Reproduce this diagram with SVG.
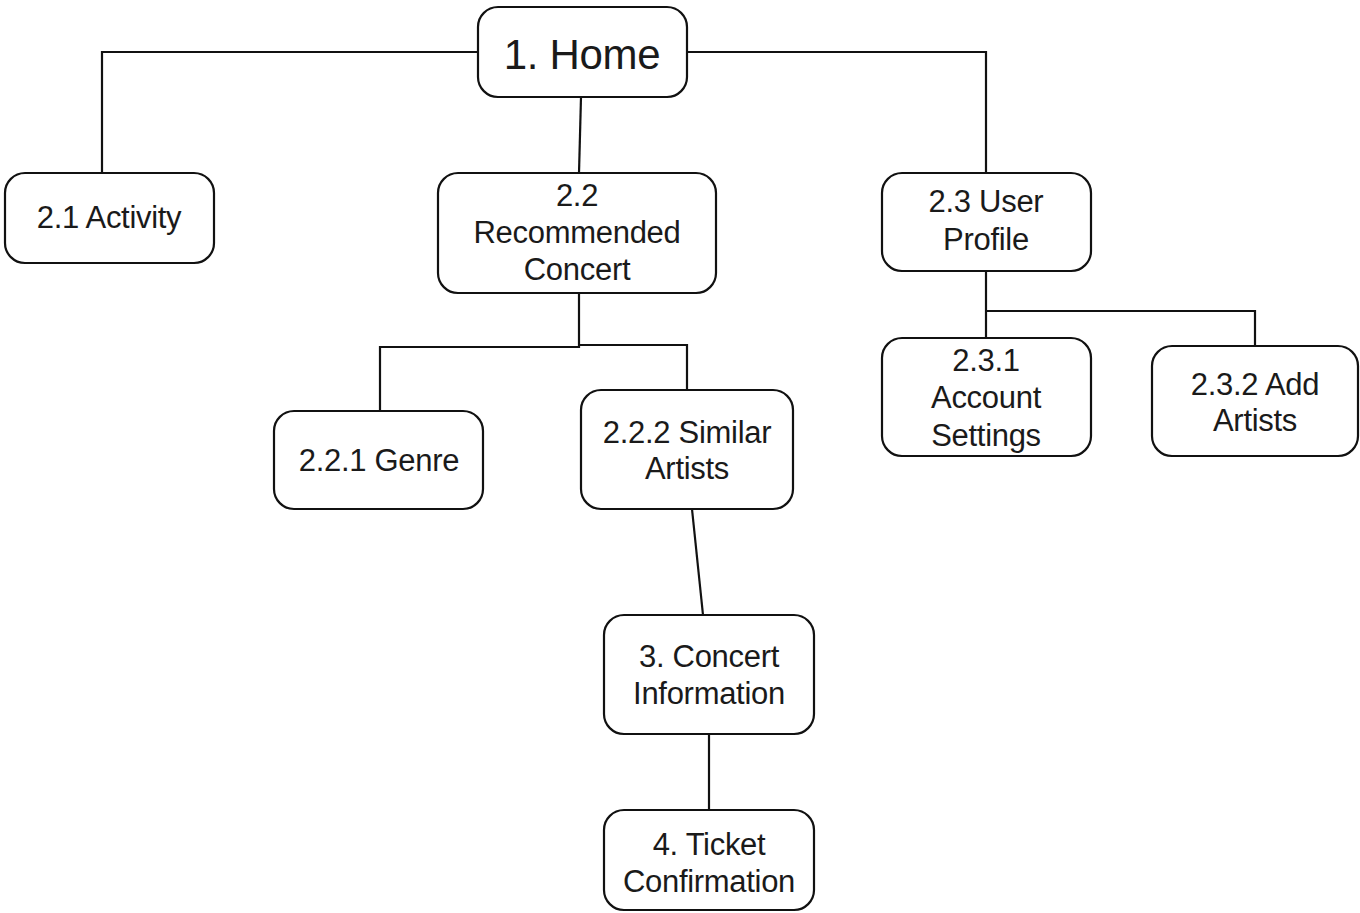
<svg xmlns="http://www.w3.org/2000/svg" width="1360" height="913" viewBox="0 0 1360 913">
<style>
.box{fill:#fff;stroke:#111;stroke-width:2.2}
.c{fill:none;stroke:#111;stroke-width:2.2}
text{font-family:"Liberation Sans",Arial,sans-serif;font-size:31px;fill:#1a1a1a;text-anchor:middle;letter-spacing:-0.3px}
.big{font-size:42px}
</style>
<rect width="1360" height="913" fill="#fff"/>
<g id="connectors">
<path class="c" d="M478,52 H102 V173"/>
<path class="c" d="M687,52 H986 V173"/>
<path class="c" d="M581,97 L579,173"/>
<path class="c" d="M579,293 V347 H380 V411"/>
<path class="c" d="M579,345 H687 V390"/>
<path class="c" d="M986,271 V338"/>
<path class="c" d="M986,311 H1255 V346"/>
<path class="c" d="M692,509 L703,615"/>
<path class="c" d="M709,734 V810"/>
</g>
<g id="n1"><rect class="box" x="478" y="7" width="209" height="90" rx="20"/><text class="big" x="582" y="69">1. Home</text></g>
<g id="n21"><rect class="box" x="5" y="173" width="209" height="90" rx="20"/><text x="109" y="228">2.1 Activity</text></g>
<g id="n22"><rect class="box" x="438" y="173" width="278" height="120" rx="20"/><text x="577" y="206">2.2</text><text x="577" y="243">Recommended</text><text x="577" y="280">Concert</text></g>
<g id="n23"><rect class="box" x="882" y="173" width="209" height="98" rx="20"/><text x="986" y="212">2.3 User</text><text x="986" y="250">Profile</text></g>
<g id="n231"><rect class="box" x="882" y="338" width="209" height="118" rx="20"/><text x="986" y="371">2.3.1</text><text x="986" y="408">Account</text><text x="986" y="446">Settings</text></g>
<g id="n232"><rect class="box" x="1152" y="346" width="206" height="110" rx="20"/><text x="1255" y="395">2.3.2 Add</text><text x="1255" y="431">Artists</text></g>
<g id="n221"><rect class="box" x="274" y="411" width="209" height="98" rx="20"/><text x="379" y="471">2.2.1 Genre</text></g>
<g id="n222"><rect class="box" x="581" y="390" width="212" height="119" rx="20"/><text x="687" y="443">2.2.2 Similar</text><text x="687" y="479">Artists</text></g>
<g id="n3"><rect class="box" x="604" y="615" width="210" height="119" rx="20"/><text x="709" y="667">3. Concert</text><text x="709" y="704">Information</text></g>
<g id="n4"><rect class="box" x="604" y="810" width="210" height="100" rx="20"/><text x="709" y="855">4. Ticket</text><text x="709" y="892">Confirmation</text></g>
</svg>
